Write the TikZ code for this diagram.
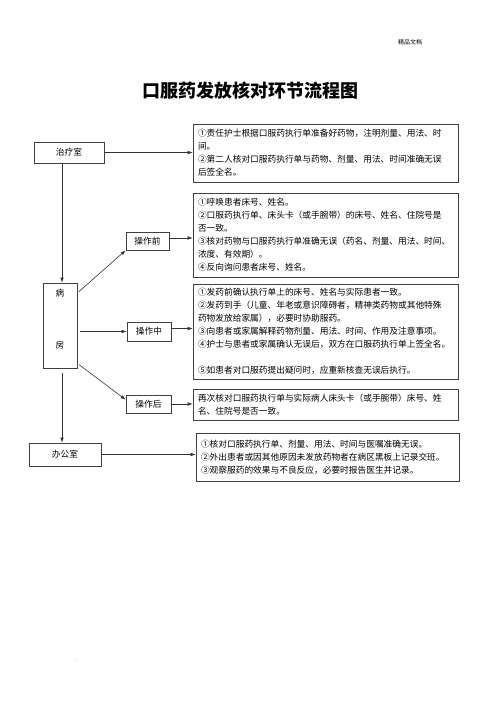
\documentclass[tikz,border=0pt]{standalone}
\usepackage{fontspec}
\newfontfamily\cjk{Noto Sans CJK SC}
\usetikzlibrary{arrows.meta}
\begin{document}
\begin{tikzpicture}[x=1pt,y=-1pt,
  box/.style={draw=black!75, line width=0.7pt, inner xsep=5pt, inner ysep=0pt, text width=255pt, align=left, font=\cjk\fontsize{8.7}{13}\selectfont},
  lbox/.style={draw=black!75, line width=0.7pt, inner sep=0pt, font=\cjk\fontsize{8.7}{10}\selectfont},
  lbl/.style={inner sep=0pt, font=\cjk\fontsize{8.7}{10}\selectfont},
  arr/.style={draw=black!80, line width=0.6pt, -{Latex[length=5pt,width=3.6pt]}}]
\useasboundingbox (0,0) rectangle (500,707);
\fill[white] (0,0) rectangle (500,707);

\node[inner sep=0pt, font=\cjk\fontsize{6}{7}\selectfont] (hdr) at (410,42) {精品文档};
\node[inner sep=0pt, font=\cjk\bfseries\fontsize{18}{20}\selectfont] (title) at (250,91) {口服药发放核对环节流程图};

% right boxes
\node[box, minimum height=58pt] (b1) at (325.5,153) {①责任护士根据口服药执行单准备好药物，注明剂量、用法、时\\间。\\②第二人核对口服药执行单与药物、剂量、用法、时间准确无误\\后签全名。};
\node[box, minimum height=84pt] (b2) at (325.5,235) {①呼唤患者床号、姓名。\\②口服药执行单、床头卡（或手腕带）的床号、姓名、住院号是\\否一致。\\③核对药物与口服药执行单准确无误（药名、剂量、用法、时间、\\浓度、有效期）。\\④反向询问患者床号、姓名。};
\node[box, minimum height=95pt] (b3) at (325.5,331.5) {①发药前确认执行单上的床号、姓名与实际患者一致。\\②发药到手（儿童、年老或意识障碍者，精神类药物或其他特殊\\药物发放给家属），必要时协助服药。\\③向患者或家属解释药物剂量、用法、时间、作用及注意事项。\\④护士与患者或家属确认无误后，双方在口服药执行单上签全名。\\[13pt]⑤如患者对口服药提出疑问时，应重新核查无误后执行。};
\node[box, minimum height=31pt] (b4) at (325.5,404.5) {再次核对口服药执行单与实际病人床头卡（或手腕带）床号、姓\\名、住院号是否一致。};
\node[box, minimum height=48pt, text width=253pt] (b5) at (327.5,457) {①核对口服药执行单、剂量、用法、时间与医嘱准确无误。\\②外出患者或因其他原因未发放药物者在病区黑板上记录交班。\\③观察服药的效果与不良反应，必要时报告医生并记录。};

% left boxes
\node[lbox, minimum width=70pt, minimum height=21pt] (zl) at (69,152.5) {治疗室};
\node[lbox, minimum width=34pt, minimum height=85pt] (bf) at (60,325.5) {};
\node[lbl] (bing) at (60,293) {病};
\node[lbl] (fang) at (60,345) {房};
\node[lbox, minimum width=43pt, minimum height=18pt] (cq) at (147.5,241) {操作前};
\node[lbox, minimum width=44pt, minimum height=19pt] (cz) at (149,331.5) {操作中};
\node[lbox, minimum width=45pt, minimum height=18pt] (ch) at (148.5,404) {操作后};
\node[lbox, minimum width=72pt, minimum height=23pt] (bg) at (65,454.5) {办公室};

\node[inner sep=0pt, font=\fontsize{5}{6}\selectfont] (dot) at (76,661) {.};

% connectors
\coordinate (xl) at (62,0);
\coordinate (cqe) at ([yshift=3pt]cq.east);
\coordinate (cze) at ([yshift=3pt]cz.east);
\coordinate (bfa) at ([yshift=5pt]bf.south east);
\coordinate (cha) at ([yshift=-5pt]ch.north west);
\draw[arr] (zl.east) -- (b1.west |- zl.east);
\draw[arr] (zl.south -| xl) -- (bf.north -| xl);
\draw[arr, shorten <=5pt] (bf.south -| xl) -- (bg.north -| xl);
\draw[arr, shorten <=2pt] (bf.east |- bing) -- (cq.south west);
\draw[arr, shorten <=3pt] (bf.east |- cz.west) -- (cz.west);
\draw[arr, shorten <=2pt] (bfa) -- (cha);
\draw[arr] (cqe) -- (b2.west |- cqe);
\draw[arr] (cze) -- (b3.west |- cze);
\draw[arr] (ch.east) -- (b4.west |- ch.east);
\draw[arr] (bg.east) -- (b5.west |- bg.east);
\end{tikzpicture}
\end{document}
